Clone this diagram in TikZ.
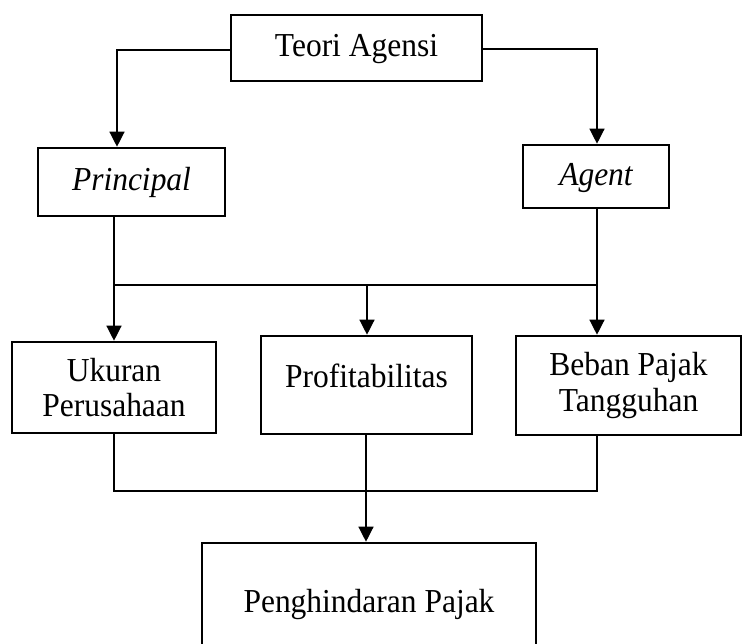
\documentclass[tikz,border=0pt]{standalone}
\usepackage{fontspec}
\setmainfont{Liberation Serif}[FakeStretch=0.94]
\usetikzlibrary{arrows.meta}
\begin{document}
\begin{tikzpicture}[x=1pt,y=-1pt,
  box/.style={draw=black, line width=2.6pt, fill=white, rectangle, inner sep=0pt,
    align=center, font=\fontsize{33.5}{35.5}\selectfont},
  oneline/.style={text height=24pt, text depth=6pt},
  conn/.style={draw=black, line width=1.3pt},
  arr/.style={conn, -{Triangle[width=15pt,length=15pt]}}]
\useasboundingbox (0,0) rectangle (744,644);
\clip (0,0) rectangle (744,644);
\fill[white] (0,0) rectangle (744,644);
% boxes
\node[box, oneline, minimum width=251pt, minimum height=66pt] (teori) at (356.5,48) {Teori Agensi};
\node[box, oneline, minimum width=187pt, minimum height=68pt] (principal) at (131.5,182) {\itshape Principal};
\node[box, oneline, minimum width=146pt, minimum height=63pt] (agent) at (596,176.5) {\itshape Agent};
\node[box, minimum width=204pt, minimum height=91pt] (ukuran) at (114,387.5) {Ukuran\\Perusahaan};
\node[box, text height=17pt, text depth=13pt, minimum width=211pt, minimum height=98pt] (profit) at (366.5,385) {Profitabilitas};
\node[box, minimum width=225pt, minimum height=99pt] (beban) at (628.5,385.5) {Beban Pajak\\Tangguhan};
\node[box, text height=27pt, text depth=3pt, minimum width=334pt, minimum height=114pt] (peng) at (369,600) {Penghindaran Pajak};
% junction coordinates
\coordinate (tl) at (117,50);
\coordinate (tr) at (597,49);
\coordinate (ml) at (114,285);
\coordinate (mr) at (597,285);
\coordinate (mm) at (367,285);
\coordinate (bl) at (114,491);
\coordinate (br) at (597,491);
% top connectors
\draw[arr] (teori.west |- tl) -- (tl) -- (tl |- principal.north);
\draw[arr] (teori.east |- tr) -- (tr) -- (tr |- agent.north);
% middle connectors
\draw[arr] (ml |- principal.south) -- (ml |- ukuran.north);
\draw[arr] (mr |- agent.south) -- (mr |- beban.north);
\draw[conn] (ml) -- (mr);
\draw[arr] (mm) -- (mm |- profit.north);
% bottom connectors
\draw[conn] (bl |- ukuran.south) -- (bl) -- (br) -- (br |- beban.south);
\draw[arr] (366,434) coordinate (ps) (ps |- profit.south) -- (ps |- peng.north);
\end{tikzpicture}
\end{document}
